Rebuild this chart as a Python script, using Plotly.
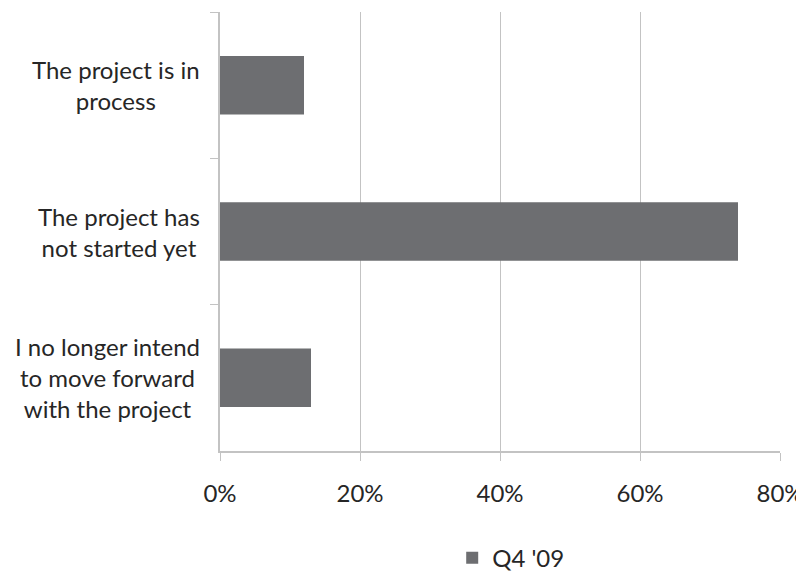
import plotly.graph_objects as go

categories = ["The project is in process",
              "The project has not started yet",
              "I no longer intend to move forward with the project"]
label_lines = ["The project is in<br>process",
               "The project has<br>not started yet",
               "I no longer intend<br>to move forward<br>with the project"]
values = [0.12, 0.74, 0.13]
series_name = "Q4 '09"
x_ticks = [0, 0.2, 0.4, 0.6, 0.8]
x_tick_labels = ["0%", "20%", "40%", "60%", "80%"]

FONT = "Lato, 'Open Sans', sans-serif"
FS = 24
TXT = "#262626"
GRID = "#c3c3c3"

fig = go.Figure()
fig.add_trace(go.Bar(
    y=categories, x=values, orientation="h", name=series_name,
    marker=dict(color="#6d6e71", line=dict(width=0)),
    showlegend=True,
))

for cat, lab in zip(categories, label_lines):
    fig.add_annotation(x=0, y=cat, xref="paper", yref="y", text=lab,
                       showarrow=False, xanchor="right", xshift=-18,
                       align="center", font=dict(family=FONT, size=FS, color=TXT))

fig.update_layout(
    width=804, height=575,
    margin=dict(l=212, r=32, t=4, b=132, autoexpand=False),
    paper_bgcolor="white", plot_bgcolor="white",
    bargap=0.6,
    font=dict(family=FONT, size=FS, color=TXT),
    legend=dict(orientation="h", x=0.52, xanchor="center", y=-0.244, yanchor="middle",
                font=dict(family=FONT, size=FS, color=TXT)),
    xaxis=dict(range=[0, 0.8], tickvals=x_ticks, ticktext=x_tick_labels,
               showgrid=True, gridcolor=GRID, gridwidth=1,
               showline=True, linecolor=GRID, linewidth=2,
               ticks="outside", ticklen=8, tickcolor=GRID,
               ticklabelstandoff=12, zeroline=False,
               tickfont=dict(family=FONT, size=FS, color=TXT)),
    yaxis=dict(categoryorder="array", categoryarray=categories, autorange="reversed",
               showticklabels=False, showgrid=False,
               showline=True, linecolor=GRID, linewidth=2,
               ticks="outside", ticklen=8, tickcolor=GRID, tickson="boundaries"),
)

fig.write_html("out.html")
